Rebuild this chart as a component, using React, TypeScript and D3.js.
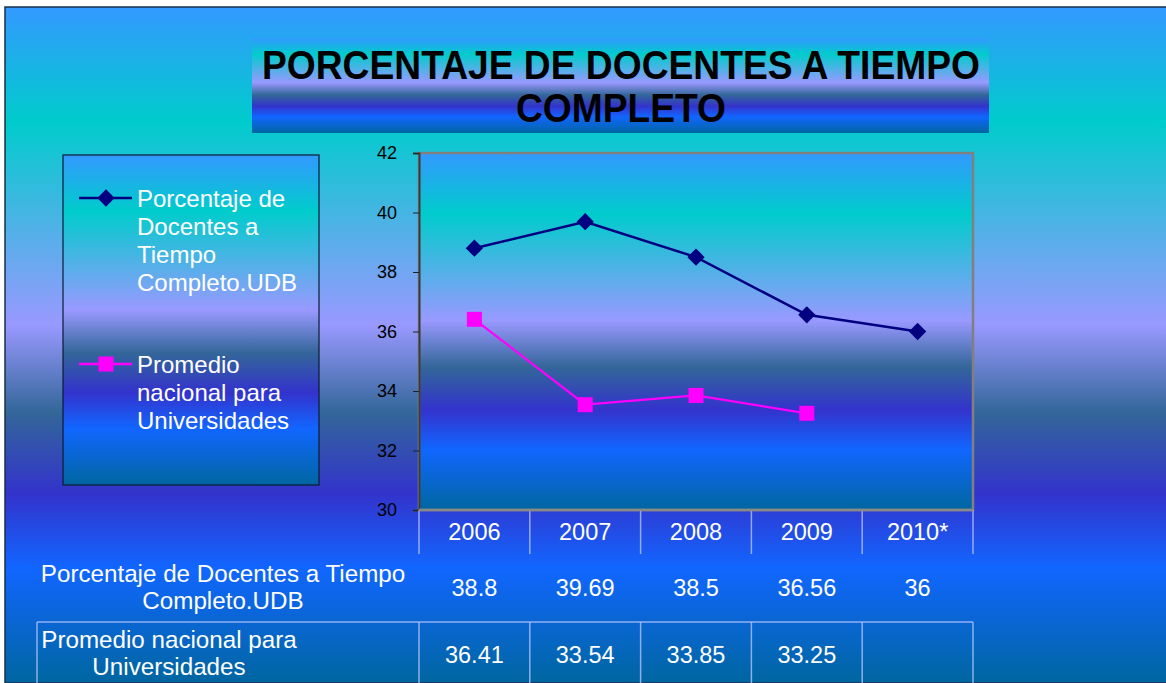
import { useEffect, useRef } from 'react'
import * as d3 from 'd3'

const W = 1166, H = 683
const years = ['2006', '2007', '2008', '2009', '2010*']
const udb = [38.8, 39.69, 38.5, 36.56, 36]
const nacional: (number | null)[] = [36.41, 33.54, 33.85, 33.25, null]
const yTicks = [30, 32, 34, 36, 38, 40, 42]
const udbLabel = ['Porcentaje de', 'Docentes a', 'Tiempo', 'Completo.UDB']
const nacLabel = ['Promedio', 'nacional para', 'Universidades']
const udbRowLabel = ['Porcentaje de Docentes a Tiempo', 'Completo.UDB']
const nacRowLabel = ['Promedio nacional para', 'Universidades']
const titleLines = ['PORCENTAJE DE DOCENTES A TIEMPO', 'COMPLETO']

const STOPS: [number, string][] = [
  [0, '#3399ff'], [0.17, '#00cccc'], [0.47, '#9999ff'], [0.6, '#336699'],
  [0.72, '#3333cc'], [0.83, '#1166ff'], [1, '#0066a0'],
]

const NAVY = '#000080', PINK = '#ff00ff'
const FONT = '"Liberation Sans", Arial, sans-serif'

export default function App() {
  const ref = useRef<SVGSVGElement>(null)

  useEffect(() => {
    const svg = d3.select(ref.current)
    svg.selectAll('*').remove()

    const grad = svg.append('defs').append('linearGradient')
      .attr('id', 'ocean').attr('x1', 0).attr('y1', 0).attr('x2', 0).attr('y2', 1)
    STOPS.forEach(([o, c]) => grad.append('stop').attr('offset', o).attr('stop-color', c))

    // slide background
    svg.append('rect').attr('x', 5).attr('y', 7).attr('width', W).attr('height', H - 7)
      .attr('fill', 'url(#ocean)').attr('stroke', '#1a2f4a').attr('stroke-width', 1.5)

    // title
    svg.append('rect').attr('x', 252).attr('y', 38).attr('width', 737).attr('height', 95)
      .attr('fill', 'url(#ocean)')
    titleLines.forEach((t, i) => {
      svg.append('text').attr('x', 621).attr('y', 65 + i * 43).attr('dy', '0.36em')
        .attr('text-anchor', 'middle').attr('font-family', FONT).attr('font-weight', 'bold')
        .attr('font-size', 40).attr('fill', '#000')
        .attr('textLength', i === 0 ? 718 : 210).attr('lengthAdjust', 'spacingAndGlyphs')
        .text(t)
    })

    const x0 = 419, x1 = 973, yTop = 153, yBot = 510
    const x = d3.scaleBand<string>().domain(years).range([x0, x1])
    const y = d3.scaleLinear().domain([30, 42]).range([yBot, yTop])
    const cx = (d: string) => (x(d) ?? 0) + x.bandwidth() / 2

    // plot area
    svg.append('rect').attr('x', x0).attr('y', yTop).attr('width', x1 - x0).attr('height', yBot - yTop)
      .attr('fill', 'url(#ocean)').attr('stroke', '#808080').attr('stroke-width', 2.5)

    // y axis
    const ya = svg.append('g').attr('transform', `translate(${x0},0)`)
      .call(d3.axisLeft(y).tickValues(yTicks).tickSize(6).tickPadding(16))
    ya.select('.domain').attr('stroke', '#3a3a3a').attr('stroke-width', 2)
    ya.selectAll('.tick line').attr('stroke', '#222')
    ya.selectAll('.tick text').attr('font-family', FONT).attr('font-size', 18).attr('fill', '#000')

    const tableLine = 'rgba(190,200,255,0.75)'
    // category separators under axis
    const edges = years.map((d) => x(d) ?? 0).concat([x1])
    edges.forEach((e) => {
      svg.append('line').attr('x1', e).attr('x2', e).attr('y1', yBot).attr('y2', 554)
        .attr('stroke', tableLine).attr('stroke-width', 1.5)
    })
    svg.append('line').attr('x1', x0).attr('x2', x1).attr('y1', yBot).attr('y2', yBot)
      .attr('stroke', '#8a8a8a').attr('stroke-width', 2.5)

    const white = (t: string, tx: number, ty: number, size = 23.5, anchor = 'middle') =>
      svg.append('text').attr('x', tx).attr('y', ty).attr('dy', '0.36em')
        .attr('text-anchor', anchor).attr('font-family', FONT).attr('font-size', size)
        .attr('fill', '#fff').text(t)

    years.forEach((d) => white(d, cx(d), 532))

    // data table
    udbRowLabel.forEach((t, i) => white(t, 223, 573 + i * 27, 24.2))
    udb.forEach((v, i) => white(String(v), cx(years[i]), 588))
    nacRowLabel.forEach((t, i) => white(t, 169, 639 + i * 27, 24.2))
    nacional.forEach((v, i) => { if (v != null) white(String(v), cx(years[i]), 655) })
    svg.append('line').attr('x1', 37).attr('x2', x1).attr('y1', 622).attr('y2', 622)
      .attr('stroke', tableLine).attr('stroke-width', 1.5)
    ;[37, ...edges].forEach((e) => {
      svg.append('line').attr('x1', e).attr('x2', e).attr('y1', 622).attr('y2', H)
        .attr('stroke', tableLine).attr('stroke-width', 1.5)
    })

    // series
    const line = d3.line<{ k: string; v: number | null }>()
      .defined((d) => d.v != null).x((d) => cx(d.k)).y((d) => y(d.v as number))
    const diamond = d3.symbol(d3.symbolDiamond2, 190)
    const square = d3.symbol(d3.symbolSquare, 225)

    const s1 = years.map((k, i) => ({ k, v: udb[i] as number | null }))
    const s2 = years.map((k, i) => ({ k, v: nacional[i] }))
    svg.append('path').attr('d', line(s1)).attr('fill', 'none').attr('stroke', NAVY).attr('stroke-width', 2.5)
    svg.append('path').attr('d', line(s2)).attr('fill', 'none').attr('stroke', PINK).attr('stroke-width', 2.2)
    s1.forEach((d) => svg.append('path').attr('d', diamond()).attr('fill', NAVY)
      .attr('transform', `translate(${cx(d.k)},${y(d.v as number)})`))
    s2.filter((d) => d.v != null).forEach((d) => svg.append('path').attr('d', square()).attr('fill', PINK)
      .attr('transform', `translate(${cx(d.k)},${y(d.v as number)})`))

    // legend
    svg.append('rect').attr('x', 63).attr('y', 155).attr('width', 256).attr('height', 330)
      .attr('fill', 'url(#ocean)').attr('stroke', '#0d1a33').attr('stroke-width', 1.2)
    const legendItem = (ly: number, col: string, sym: string, lines: string[]) => {
      svg.append('line').attr('x1', 79).attr('x2', 132).attr('y1', ly).attr('y2', ly)
        .attr('stroke', col).attr('stroke-width', 2.5)
      svg.append('path').attr('d', sym).attr('fill', col).attr('transform', `translate(106,${ly})`)
      lines.forEach((t, i) => white(t, 137, ly + i * 28, 24, 'start'))
    }
    legendItem(198, NAVY, diamond() as string, udbLabel)
    legendItem(364, PINK, square() as string, nacLabel)
  }, [])

  return (
    <div style={{ position: 'fixed', left: 0, top: 0, width: W, height: H, background: '#fff' }}>
      <svg ref={ref} width={W} height={H} style={{ display: 'block' }} />
    </div>
  )
}
